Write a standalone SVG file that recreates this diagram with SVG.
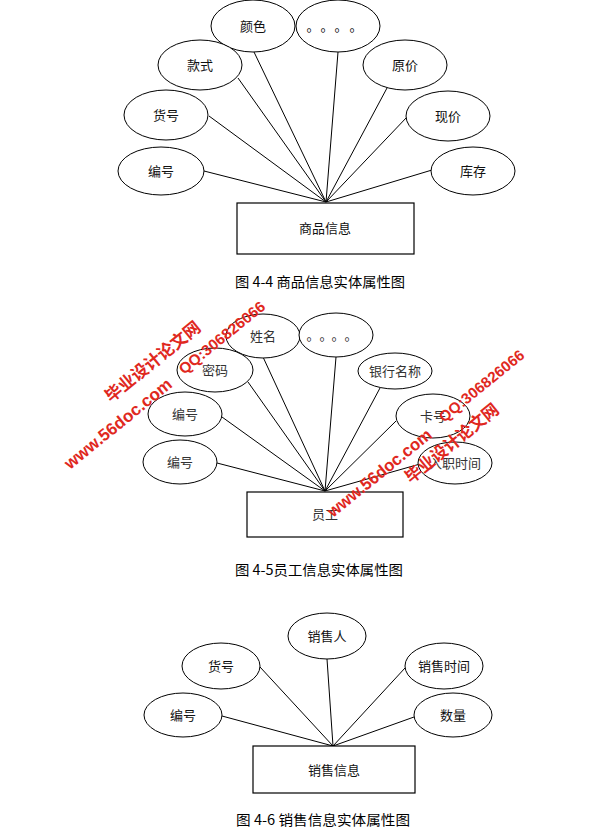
<svg xmlns="http://www.w3.org/2000/svg" width="615" height="837" viewBox="0 0 615 837">
<style>
.bg{fill:#ffffff}
.e{fill:#ffffff;stroke:#000;stroke-width:1}
.r{fill:#ffffff;stroke:#000;stroke-width:1.2}
.c line{stroke:#000;stroke-width:1}
.t{font-family:"Noto Sans CJK SC","Liberation Sans",sans-serif;font-size:13px;fill:#111;text-anchor:middle}
.t2{font-family:"Noto Sans CJK SC","Liberation Sans",sans-serif;font-size:13px;fill:#333;text-anchor:middle}
.dots{font-family:"Noto Sans CJK SC",sans-serif;font-size:13px;fill:#111;text-anchor:middle}
.cap{font-family:"Noto Sans CJK SC","Liberation Sans",sans-serif;font-size:14px;fill:#000;text-anchor:middle}
.wm{font-family:"Liberation Sans","Noto Sans CJK SC",sans-serif;font-weight:bold;fill:#e0281e}
.wmc{font-family:"Noto Sans CJK SC",sans-serif;font-weight:bold;fill:#e0281e}
</style>
<rect class="bg" x="0" y="0" width="615" height="837"/>

<!-- Figure 4-4 -->
<g id="conn1" class="c">
<line x1="254" y1="52" x2="326" y2="202"/>
<line x1="338" y1="52" x2="326" y2="202"/>
<line x1="238" y1="78" x2="326" y2="202"/>
<line x1="387" y1="88" x2="326" y2="202"/>
<line x1="209" y1="116" x2="326" y2="202"/>
<line x1="407" y1="117" x2="326" y2="202"/>
<line x1="204" y1="171" x2="326" y2="202"/>
<line x1="432" y1="170" x2="326" y2="202"/>
</g>
<g id="a1-yanse"><ellipse class="e" cx="253" cy="26" rx="42" ry="26"/><text class="t" x="253" y="31">颜色</text></g>
<g id="a1-more"><ellipse class="e" cx="338" cy="26" rx="42" ry="26"/><text class="dots" x="313 327 341 356" y="31">。。。。</text></g>
<g id="a1-kuanshi"><ellipse class="e" cx="200" cy="65" rx="42" ry="25"/><text class="t" x="200" y="70">款式</text></g>
<g id="a1-yuanjia"><ellipse class="e" cx="405" cy="65" rx="42" ry="25"/><text class="t" x="405" y="70">原价</text></g>
<g id="a1-huohao"><ellipse class="e" cx="166" cy="115" rx="42" ry="25"/><text class="t" x="166" y="120">货号</text></g>
<g id="a1-xianjia"><ellipse class="e" cx="448" cy="116" rx="42" ry="25"/><text class="t" x="448" y="121">现价</text></g>
<g id="a1-bianhao"><ellipse class="e" cx="161" cy="171" rx="43" ry="24"/><text class="t" x="161" y="176">编号</text></g>
<g id="a1-kucun"><ellipse class="e" cx="473" cy="171" rx="42" ry="24"/><text class="t" x="473" y="176">库存</text></g>
<g id="e1"><rect class="r" x="237" y="203" width="177" height="51"/><text class="t" x="325" y="233">商品信息</text></g>
<text class="cap" x="320" y="287" textLength="170" lengthAdjust="spacingAndGlyphs">图 4-4 商品信息实体属性图</text>

<!-- Figure 4-5 -->
<g id="conn2" class="c">
<line x1="263" y1="357" x2="325" y2="491"/>
<line x1="248" y1="382" x2="325" y2="491"/>
<line x1="222" y1="417" x2="325" y2="491"/>
<line x1="217" y1="463" x2="325" y2="491"/>
<line x1="336" y1="357" x2="325" y2="491"/>
<line x1="380" y1="388" x2="325" y2="491"/>
<line x1="396" y1="421" x2="325" y2="491"/>
<line x1="420" y1="464" x2="325" y2="491"/>
</g>
<g id="a2-xingming"><ellipse class="e" cx="263" cy="336" rx="37" ry="22"/><text class="t2" x="263" y="341">姓名</text></g>
<g id="a2-more"><ellipse class="e" cx="336" cy="335" rx="37" ry="22"/><text class="dots" x="313 326 338 351" y="340" style="fill:#333">。。。。</text></g>
<g id="a2-mima"><ellipse class="e" cx="215" cy="370" rx="38" ry="22"/><text class="t2" x="215" y="375">密码</text></g>
<g id="a2-yinhang"><ellipse class="e" cx="395" cy="371" rx="37" ry="18"/><text class="t2" x="395" y="376">银行名称</text></g>
<g id="a2-bianhao1"><ellipse class="e" cx="185" cy="414" rx="37" ry="22"/><text class="t2" x="185" y="419">编号</text></g>
<g id="a2-kahao"><ellipse class="e" cx="433" cy="416" rx="37" ry="22"/><text class="t2" x="433" y="421">卡号</text></g>
<g id="a2-bianhao2"><ellipse class="e" cx="180" cy="462" rx="37" ry="22"/><text class="t2" x="180" y="467">编号</text></g>
<g id="a2-ruzhi"><ellipse class="e" cx="455" cy="463" rx="37" ry="21"/><text class="t2" x="455" y="468">入职时间</text></g>
<g id="e2"><rect class="r" x="247" y="492" width="156" height="45"/><text class="t2" x="325" y="519">员工</text></g>
<text class="cap" x="319" y="575" textLength="168" lengthAdjust="spacingAndGlyphs">图 4-5员工信息实体属性图</text>

<!-- Figure 4-6 -->
<g id="conn3" class="c">
<line x1="327" y1="659" x2="333" y2="746"/>
<line x1="260" y1="667" x2="333" y2="746"/>
<line x1="405" y1="668" x2="333" y2="746"/>
<line x1="222" y1="716" x2="333" y2="746"/>
<line x1="414" y1="717" x2="333" y2="746"/>
</g>
<g id="a3-xiaoshouren"><ellipse class="e" cx="327" cy="636" rx="39" ry="23"/><text class="t" x="327" y="641">销售人</text></g>
<g id="a3-huohao"><ellipse class="e" cx="221" cy="666" rx="39" ry="23"/><text class="t" x="221" y="671">货号</text></g>
<g id="a3-shijian"><ellipse class="e" cx="444" cy="666" rx="39" ry="23"/><text class="t" x="444" y="671">销售时间</text></g>
<g id="a3-bianhao"><ellipse class="e" cx="183" cy="715" rx="39" ry="22"/><text class="t" x="183" y="720">编号</text></g>
<g id="a3-shuliang"><ellipse class="e" cx="453" cy="715" rx="39" ry="22"/><text class="t" x="453" y="720">数量</text></g>
<g id="e3"><rect class="r" x="253" y="746" width="162" height="47"/><text class="t" x="334" y="775">销售信息</text></g>
<text class="cap" x="323" y="825" textLength="174" lengthAdjust="spacingAndGlyphs">图 4-6 销售信息实体属性图</text>

<!-- watermarks -->
<g id="watermarks">
<text class="wmc" transform="translate(111,403) rotate(-39)" font-size="17" textLength="117" lengthAdjust="spacingAndGlyphs">毕业设计论文网</text>
<text class="wm" transform="translate(184,375) rotate(-39)" font-size="15" textLength="106" lengthAdjust="spacingAndGlyphs">QQ:306826066</text>
<text class="wm" transform="translate(70,470) rotate(-39)" font-size="17" textLength="133" lengthAdjust="spacingAndGlyphs">www.56doc.com</text>
<text class="wmc" transform="translate(411,484) rotate(-39)" font-size="17" textLength="115" lengthAdjust="spacingAndGlyphs">毕业设计论文网</text>
<text class="wm" transform="translate(444,423) rotate(-39)" font-size="15" textLength="105" lengthAdjust="spacingAndGlyphs">QQ:306826066</text>
<text class="wm" transform="translate(333,518) rotate(-39)" font-size="17" textLength="129" lengthAdjust="spacingAndGlyphs">www.56doc.com</text>
</g>
</svg>
